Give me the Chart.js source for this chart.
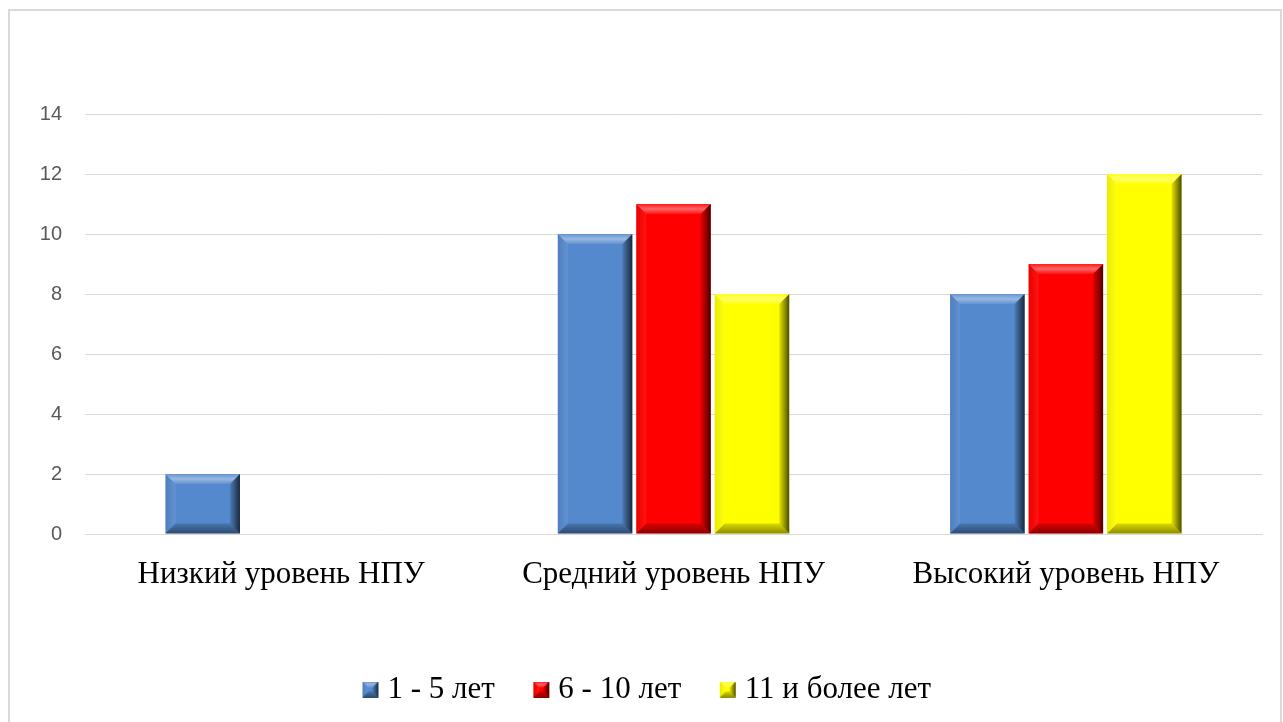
<!DOCTYPE html>
<html>
<head>
<meta charset="utf-8">
<script src="https://cdn.jsdelivr.net/npm/chart.js@4.4.0/dist/chart.umd.min.js"></script>
<style>
  html, body { margin: 0; padding: 0; background: #fff; overflow: hidden; }
  .frame {
    position: absolute; left: 8px; top: 9px;
    width: 1270px; height: 720px;
    border: 2px solid #d9d9d9; border-bottom: none;
  }
  .frame canvas { display: block; }
</style>
</head>
<body>
<div class="frame">
  <canvas id="npuChart" width="1270" height="711"></canvas>
</div>
<script>
const categories = ['Низкий уровень НПУ', 'Средний уровень НПУ', 'Высокий уровень НПУ'];
const seriesNames = ['1 - 5 лет', '6 - 10 лет', '11 и более лет'];
const years1to5 = [2, 10, 8];
const years6to10 = [0, 11, 9];
const years11plus = [0, 8, 12];
const yTicks = [0, 2, 4, 6, 8, 10, 12, 14];

const faceColors = ['#5589cd', '#ff0000', '#ffff00'];

// draws the bevel edges over a rectangle
function bevel(ctx, l, t, r, b, s) {
  const h = b - t, w = r - l;
  s = Math.min(s, h / 2, w / 2);
  if (s < 1) return;
  // top
  let g = ctx.createLinearGradient(0, t, 0, t + s);
  g.addColorStop(0, 'rgba(255,255,255,0.1)');
  g.addColorStop(0.5, 'rgba(255,255,255,0.4)');
  g.addColorStop(1, 'rgba(255,255,255,0.08)');
  ctx.fillStyle = g;
  ctx.beginPath();
  ctx.moveTo(l, t); ctx.lineTo(r, t); ctx.lineTo(r - s, t + s); ctx.lineTo(l + s, t + s);
  ctx.closePath(); ctx.fill();
  // left
  g = ctx.createLinearGradient(l, 0, l + s, 0);
  g.addColorStop(0, 'rgba(0,0,0,0.08)');
  g.addColorStop(1, 'rgba(255,255,255,0.08)');
  ctx.fillStyle = g;
  ctx.beginPath();
  ctx.moveTo(l, t); ctx.lineTo(l + s, t + s); ctx.lineTo(l + s, b - s); ctx.lineTo(l, b);
  ctx.closePath(); ctx.fill();
  // right
  g = ctx.createLinearGradient(r - s, 0, r, 0);
  g.addColorStop(0, 'rgba(0,0,0,0.1)');
  g.addColorStop(1, 'rgba(0,0,0,0.7)');
  ctx.fillStyle = g;
  ctx.beginPath();
  ctx.moveTo(r, t); ctx.lineTo(r, b); ctx.lineTo(r - s, b - s); ctx.lineTo(r - s, t + s);
  ctx.closePath(); ctx.fill();
  // bottom
  g = ctx.createLinearGradient(0, b - s, 0, b);
  g.addColorStop(0, 'rgba(0,0,0,0.15)');
  g.addColorStop(1, 'rgba(0,0,0,0.45)');
  ctx.fillStyle = g;
  ctx.beginPath();
  ctx.moveTo(l, b); ctx.lineTo(r, b); ctx.lineTo(r - s, b - s); ctx.lineTo(l + s, b - s);
  ctx.closePath(); ctx.fill();
}

// legend marker: icon placed off-centre so it lands close to the text
function legendIcon(color) {
  const c = document.createElement('canvas');
  c.width = 36; c.height = 16;
  const cx = c.getContext('2d');
  cx.fillStyle = color;
  cx.fillRect(12, 0, 16, 16);
  bevel(cx, 12, 0, 28, 16, 6);
  return c;
}

const bevelPlugin = {
  id: 'bevel',
  afterDatasetsDraw(chart) {
    const ctx = chart.ctx;
    ctx.save();
    chart.data.datasets.forEach((ds, i) => {
      chart.getDatasetMeta(i).data.forEach(bar => {
        const p = bar.getProps(['x', 'y', 'base', 'width'], true);
        bevel(ctx, p.x - p.width / 2, p.y, p.x + p.width / 2, p.base, 10);
      });
    });
    ctx.restore();
  }
};

// nudge the legend a little to the right
const legendShift = {
  id: 'legendShift',
  afterLayout(chart) {
    chart.legend.left += 12;
    chart.legend.right += 12;
  }
};

const values = [years1to5, years6to10, years11plus];

new Chart(document.getElementById('npuChart'), {
  type: 'bar',
  data: {
    labels: categories,
    datasets: seriesNames.map((name, i) => ({
      label: name,
      data: values[i],
      backgroundColor: faceColors[i],
      borderWidth: 0,
      categoryPercentage: 0.6,
      barPercentage: 0.95
    }))
  },
  options: {
    responsive: false,
    animation: false,
    layout: { padding: { top: 103, left: 0, right: 18, bottom: 7 } },
    scales: {
      x: {
        grid: { display: false, drawTicks: false },
        border: { color: '#d9d9d9', width: 1 },
        ticks: {
          color: '#000',
          padding: 22,
          maxRotation: 0,
          font: { family: '"Liberation Serif", "Times New Roman", serif', size: 31 }
        },
        afterFit(scale) { scale.height = 99; }
      },
      y: {
        min: 0, max: 14,
        afterBuildTicks(scale) { scale.ticks = yTicks.map(v => ({ value: v })); },
        grid: { color: '#d9d9d9', drawTicks: false },
        border: { display: false },
        ticks: {
          color: '#595959',
          padding: 23,
          font: { family: '"Liberation Sans", Arial, sans-serif', size: 20 }
        },
        afterFit(scale) { scale.width = 75; }
      }
    },
    plugins: {
      legend: {
        position: 'bottom',
        labels: {
          usePointStyle: true,
          pointStyleWidth: 7,
          boxHeight: 16,
          padding: 41,
          color: '#000',
          font: { family: '"Liberation Serif", "Times New Roman", serif', size: 31 },
          generateLabels(chart) {
            return chart.data.datasets.map((ds, i) => ({
              text: ds.label,
              pointStyle: legendIcon(faceColors[i]),
              fillStyle: faceColors[i],
              strokeStyle: faceColors[i],
              lineWidth: 0,
              datasetIndex: i,
              hidden: false
            }));
          }
        }
      },
      tooltip: { enabled: false }
    }
  },
  plugins: [bevelPlugin, legendShift]
});
</script>
</body>
</html>
